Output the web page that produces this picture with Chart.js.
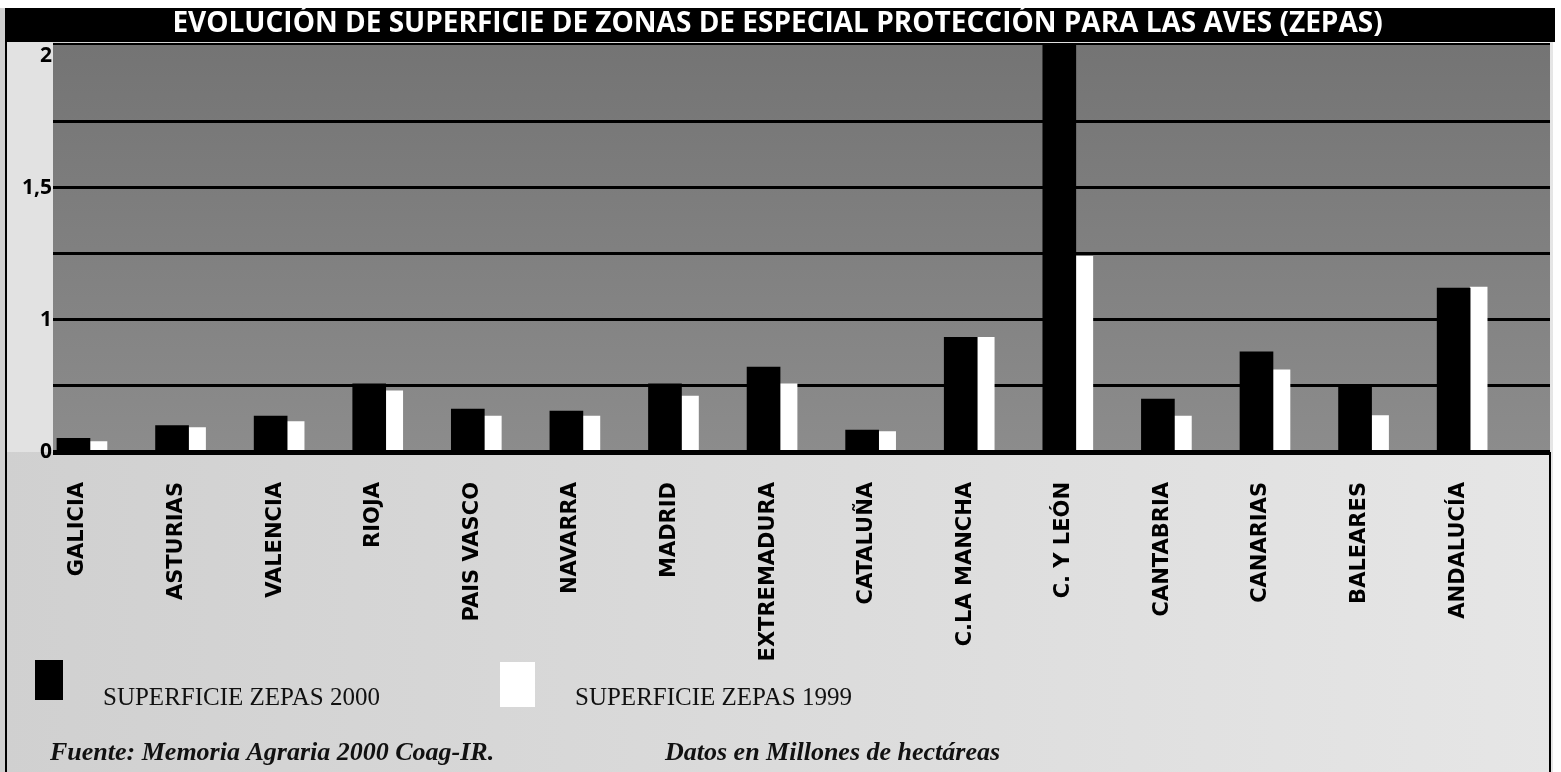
<!DOCTYPE html>
<html><head><meta charset="utf-8">
<script src="https://cdn.jsdelivr.net/npm/chart.js@4/dist/chart.umd.min.js"></script>
<style>html,body{margin:0;padding:0;background:#fff;}#wrap{width:1561px;height:772px;position:relative;}canvas{display:block}</style>
</head><body><div id="wrap"><canvas id="c" width="1561" height="772"></canvas></div>
<script>
const titleText = 'EVOLUCIÓN DE SUPERFICIE DE ZONAS DE ESPECIAL PROTECCIÓN PARA LAS AVES (ZEPAS)';
const categories = ['GALICIA','ASTURIAS','VALENCIA','RIOJA','PAIS VASCO','NAVARRA','MADRID','EXTREMADURA','CATALUÑA','C.LA MANCHA','C. Y LEÓN','CANTABRIA','CANARIAS','BALEARES','ANDALUCÍA'];
const seriesNames = ['SUPERFICIE ZEPAS 2000','SUPERFICIE ZEPAS 1999'];
const zepas2000 = [0.552, 0.600, 0.636, 0.758, 0.662, 0.655, 0.758, 0.821, 0.583, 0.934, 2.10, 0.700, 0.879, 0.754, 1.120];
const zepas1999 = [0.539, 0.592, 0.615, 0.731, 0.636, 0.636, 0.712, 0.758, 0.577, 0.934, 1.240, 0.636, 0.811, 0.638, 1.124];
const yTickValues = [0.5, 1, 1.5, 2];
const yTickLabels = ['0', '1', '1,5', '2'];
const yGridValues = [0.75, 1, 1.25, 1.5, 1.75];
const notes = ['Fuente: Memoria Agraria 2000 Coag-IR.', 'Datos en Millones de hectáreas'];

const decor = {
  id: 'decor',
  beforeDraw(chart) {
    const ctx = chart.ctx, a = chart.chartArea, W = chart.width, H = chart.height;
    ctx.save();
    const bg = ctx.createLinearGradient(0, 0, W, 0);
    bg.addColorStop(0, '#d0d0d0'); bg.addColorStop(1, '#e6e6e6');
    ctx.fillStyle = bg; ctx.fillRect(0, 0, W, H);
    ctx.fillStyle = '#ffffff'; ctx.fillRect(0, 0, W, 8); ctx.fillRect(1553, 0, W - 1553, H);
    ctx.fillStyle = '#e2e2e2'; ctx.fillRect(6, 42, a.left - 6, a.bottom - 42);
    ctx.fillStyle = '#000'; ctx.fillRect(5, 8, 1550, 34);
    const g = ctx.createLinearGradient(0, a.top, 0, a.bottom);
    g.addColorStop(0, '#747474'); g.addColorStop(1, '#8c8c8c');
    ctx.fillStyle = g; ctx.fillRect(a.left, a.top, a.right - a.left, a.bottom - a.top);
    ctx.fillStyle = '#000'; ctx.fillRect(a.left, a.top - 2, a.right - a.left, 2);
    ctx.restore();
  },
  afterDatasetsDraw(chart) {
    const ctx = chart.ctx, a = chart.chartArea, H = chart.height;
    ctx.save();
    ctx.fillStyle = '#000';
    ctx.fillRect(a.left, a.bottom - 2, a.right - a.left, 5);
    ctx.fillRect(5, 42, 2, H - 42);
    ctx.fillRect(a.right - 1, a.bottom, 2, H - a.bottom);
    const box = [[35, 660, 28, 40], [500, 662, 35, 45]], textX = [103, 575];
    chart.data.datasets.forEach((ds, i) => {
      ctx.fillStyle = ds.backgroundColor;
      ctx.fillRect(box[i][0], box[i][1], box[i][2], box[i][3]);
      ctx.fillStyle = '#111';
      ctx.font = '25px "Liberation Serif"';
      ctx.textBaseline = 'alphabetic';
      ctx.fillText(ds.label, textX[i], 705);
    });
    ctx.font = 'italic bold 26px "Liberation Serif"';
    ctx.fillStyle = '#111';
    ctx.fillText(notes[0], 50, 760);
    ctx.fillText(notes[1], 665, 760);
    ctx.restore();
  }
};

new Chart(document.getElementById('c'), {
  type: 'bar',
  data: {
    datasets: [
      { label: seriesNames[0], data: categories.map((c, i) => ({ x: i, y: zepas2000[i] })), backgroundColor: '#000000', barThickness: 33 },
      { label: seriesNames[1], data: categories.map((c, i) => ({ x: i, y: zepas1999[i] })), backgroundColor: '#ffffff', barThickness: 17 }
    ]
  },
  options: {
    responsive: false,
    animation: false,
    events: [],
    layout: { padding: { top: 8, left: 5, right: 11, bottom: 0 } },
    plugins: {
      legend: { display: false },
      tooltip: { enabled: false },
      title: {
        display: true, text: titleText, color: '#ffffff',
        font: { family: '"Open Sans"', weight: 'bold', size: 28, lineHeight: 1 },
        padding: { top: 2, bottom: 7 }
      }
    },
    scales: {
      x: {
        type: 'linear', offset: false, min: -0.375, max: 14.81,
        afterBuildTicks(s) { s.ticks = categories.map((c, i) => ({ value: i })); },
        afterFit(s) { s.height = 320; },
        grid: { display: false }, border: { display: false },
        ticks: {
          autoSkip: false, minRotation: 90, maxRotation: 90, padding: 22, labelOffset: -12,
          color: '#000', font: { family: '"DejaVu Sans"', weight: 'bold', size: 21 },
          callback: (v) => categories[v]
        }
      },
      y: {
        min: 0.5, max: 2.04,
        afterBuildTicks(s) {
          const vals = [...new Set([...yTickValues, ...yGridValues])].sort((p, q) => p - q);
          s.ticks = vals.map(v => ({ value: v }));
        },
        afterFit(s) { s.width = 48; },
        border: { display: false },
        grid: {
          drawTicks: false, lineWidth: 3,
          color: (c) => (c.tick && yGridValues.includes(c.tick.value)) ? '#000' : 'rgba(0,0,0,0)'
        },
        ticks: {
          padding: 1, color: '#000', font: { family: '"Open Sans"', weight: 'bold', size: 21 },
          callback: (v) => { const k = yTickValues.indexOf(v); return k >= 0 ? yTickLabels[k] : ''; }
        }
      }
    }
  },
  plugins: [decor]
});
</script></body></html>
